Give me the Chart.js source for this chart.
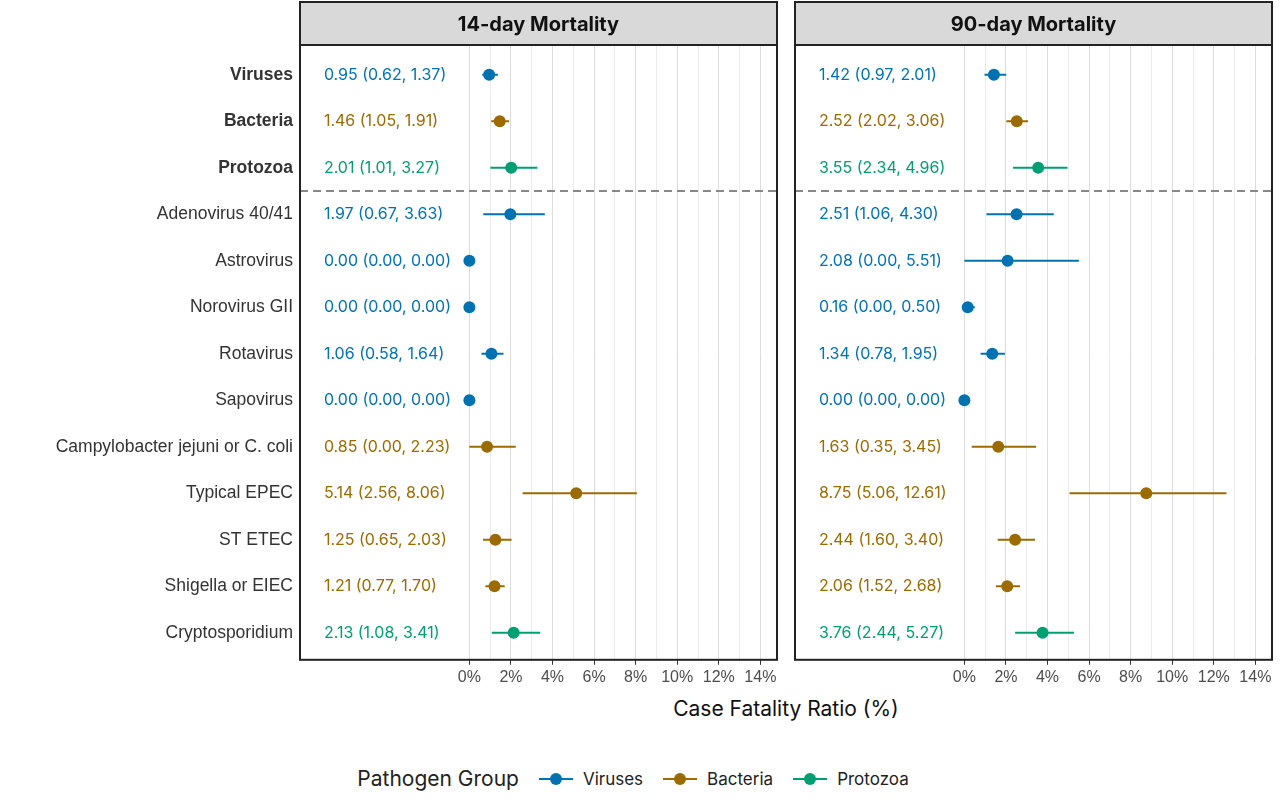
<!DOCTYPE html>
<html><head><meta charset="utf-8">
<script src="https://cdn.jsdelivr.net/npm/chart.js@4.4.0/dist/chart.umd.min.js"></script>
<style>
body{margin:0;width:1280px;height:802px;background:#fff;font-family:Inter,"Noto Sans",sans-serif;position:relative;overflow:hidden}
#c1{position:absolute;left:0;top:0}
#c2{position:absolute;left:780px;top:0}
#xt{position:absolute;top:696px;left:300px;width:972px;text-align:center;font-size:21px;color:#111}
#lg{position:absolute;top:766px;left:0;width:1280px;display:flex;justify-content:center;align-items:center;font-size:17px;color:#222}
#lg .t{font-size:21px;margin-right:14px}
#lg .k{display:inline-block;width:34px;height:14px;position:relative;margin:0 10px 0 6px}
#lg .k:before{content:"";position:absolute;left:0;right:0;top:6px;height:2px;background:var(--c)}
#lg .k:after{content:"";position:absolute;left:11px;top:1px;width:12px;height:12px;border-radius:50%;background:var(--c)}
#lg span.n{margin-right:14px}
</style></head><body>
<canvas id="c1" width="790" height="690"></canvas>
<canvas id="c2" width="500" height="690"></canvas>
<div id="xt">Case Fatality Ratio (%)</div>
<div id="lg"><span class="t">Pathogen Group</span>
<span class="k" style="--c:#0072B2"></span><span class="n">Viruses</span>
<span class="k" style="--c:#9C6B00"></span><span class="n">Bacteria</span>
<span class="k" style="--c:#009E73"></span><span class="n">Protozoa</span></div>
<script>
const categories=["Viruses","Bacteria","Protozoa","Adenovirus 40/41","Astrovirus","Norovirus GII","Rotavirus","Sapovirus","Campylobacter jejuni or C. coli","Typical EPEC","ST ETEC","Shigella or EIEC","Cryptosporidium"];
const groups=["V","B","P","V","V","V","V","V","B","B","B","B","P"];
const est14=[0.95,1.46,2.01,1.97,0,0,1.06,0,0.85,5.14,1.25,1.21,2.13];
const lo14=[0.62,1.05,1.01,0.67,0,0,0.58,0,0,2.56,0.65,0.77,1.08];
const hi14=[1.37,1.91,3.27,3.63,0,0,1.64,0,2.23,8.06,2.03,1.70,3.41];
const est90=[1.42,2.52,3.55,2.51,2.08,0.16,1.34,0,1.63,8.75,2.44,2.06,3.76];
const lo90=[0.97,2.02,2.34,1.06,0,0,0.78,0,0.35,5.06,1.60,1.52,2.44];
const hi90=[2.01,3.06,4.96,4.30,5.51,0.50,1.95,0,3.45,12.61,3.40,2.68,5.27];
const xTicks=[0,2,4,6,8,10,12,14];
const colors={V:"#0072B2",B:"#9C6B00",P:"#009E73"};
const f=v=>v.toFixed(2);

function make(id,title,est,lo,hi,left){
  const ds=[];
  est.forEach((e,i)=>{
    ds.push({type:'line',data:[{x:lo[i],y:i},{x:hi[i],y:i}],borderColor:colors[groups[i]],borderWidth:2,pointRadius:0});
  });
  ds.push({type:'scatter',data:est.map((e,i)=>({x:e,y:i})),pointRadius:6,pointBackgroundColor:est.map((e,i)=>colors[groups[i]]),pointBorderWidth:0});
  const deco={id:'deco',
    beforeDatasetsDraw(ch){const {ctx,chartArea:a,scales:{x,y}}=ch;
      ctx.save();ctx.strokeStyle='#888';ctx.lineWidth=2;ctx.setLineDash([8,5]);
      const yy=y.getPixelForValue(2.5);ctx.beginPath();ctx.moveTo(a.left,yy);ctx.lineTo(a.right,yy);ctx.stroke();ctx.restore();},
    afterDatasetsDraw(ch){const {ctx,chartArea:a,scales:{x,y}}=ch;
      ctx.save();ctx.font='16px Inter, "Noto Sans", sans-serif';ctx.textBaseline='middle';ctx.textAlign='left';
      est.forEach((e,i)=>{ctx.fillStyle=colors[groups[i]];ctx.fillText(`${f(e)} (${f(lo[i])}, ${f(hi[i])})`,x.getPixelForValue(-7.0),y.getPixelForValue(i));});
      ctx.fillStyle='#d9d9d9';ctx.fillRect(a.left,2,a.right-a.left,a.top-2);
      ctx.strokeStyle='#222';ctx.lineWidth=2;ctx.strokeRect(a.left,2,a.right-a.left,a.top-2);
      ctx.strokeRect(a.left,a.top,a.right-a.left,a.bottom-a.top);
      ctx.fillStyle='#111';ctx.font='bold 20px Inter, "Noto Sans", sans-serif';ctx.textAlign='center';
      ctx.fillText(title,(a.left+a.right)/2,(a.top+2)/2+1);ctx.restore();}};
  return new Chart(document.getElementById(id),{data:{datasets:ds},plugins:[deco],
    options:{responsive:false,animation:false,events:[],
      layout:{padding:{top:45,right:left?13:8,left:left?0:15,bottom:0}},
      plugins:{legend:{display:false},tooltip:{enabled:false}},
      scales:{
        x:{type:'linear',min:-8.15,max:14.8,
          afterBuildTicks(s){s.ticks=[...Array(15).keys()].map(v=>({value:v}));},
          ticks:{autoSkip:false,maxRotation:0,color:'#4d4d4d',font:{size:16},callback:v=>xTicks.includes(v)?v+'%':''},
          grid:{color:c=>c.tick&&c.tick.value%2===0?'#dcdcdc':'#ececec',tickColor:c=>c.tick&&c.tick.value%2===0?'#333':'rgba(0,0,0,0)',tickLength:5,lineWidth:1},
          border:{display:false}},
        y:{type:'linear',min:-0.64,max:12.58,reverse:true,display:left,
          afterBuildTicks(s){s.ticks=categories.map((c,i)=>({value:i}));},
          afterFit(s){if(left)s.width=300;},
          ticks:{autoSkip:false,color:'#333',font:c=>({size:17.5,weight:c.index<3?'bold':'normal'}),callback:(v)=>categories[v]},
          grid:{display:false,drawTicks:true,tickLength:4},border:{display:false}}
      }}});
}
make('c1','14-day Mortality',est14,lo14,hi14,true);
make('c2','90-day Mortality',est90,lo90,hi90,false);
</script></body></html>
